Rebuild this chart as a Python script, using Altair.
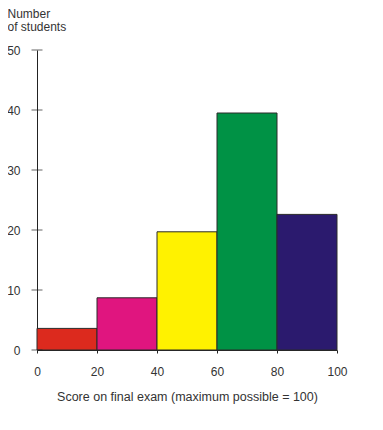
import altair as alt
import pandas as pd

bin_start = [0, 20, 40, 60, 80]
bin_end = [20, 40, 60, 80, 100]
counts = [3.6, 8.7, 19.7, 39.5, 22.6]
colors = ["#dc2a1e", "#e0157f", "#fff200", "#009245", "#2b1a6e"]
y_ticks = [0, 10, 20, 30, 40, 50]
x_ticks = [0, 20, 40, 60, 80, 100]

df = pd.DataFrame({"start": bin_start, "end": bin_end, "count": counts, "color": colors})
ticks_df = pd.DataFrame({"y": y_ticks, "x": [0] * len(y_ticks)})

FONT = "Liberation Sans"
TXT = "#333333"

x_scale = alt.Scale(domain=[0, 100], nice=False)
y_scale = alt.Scale(domain=[0, 50], nice=False)

bars = alt.Chart(df).mark_rect(stroke="#2a2a2a", strokeWidth=1).encode(
    x=alt.X("start:Q", scale=x_scale,
            axis=alt.Axis(values=x_ticks, title="Score on final exam (maximum possible = 100)",
                          grid=False, domainColor="#222", tickColor="#222", tickSize=3,
                          labelFlush=False, labelOverlap=False,
                          labelPadding=13, labelFont=FONT, labelFontSize=12, labelColor=TXT,
                          titleFont=FONT, titleFontSize=12.5, titleFontWeight="normal",
                          titleColor=TXT, titlePadding=13)),
    x2="end:Q",
    y=alt.Y("count:Q", scale=y_scale,
            axis=alt.Axis(values=y_ticks, title=["Number", "of students"], grid=False,
                          domainColor="#222", ticks=False, labelPadding=17,
                          labelFlush=False, labelOverlap=False,
                          labelFont=FONT, labelFontSize=12, labelColor=TXT,
                          titleFont=FONT, titleFontSize=12, titleFontWeight="normal",
                          titleColor=TXT, titleAngle=0, titleAlign="left",
                          titleBaseline="top", titleX=-30, titleY=-42, titleLineHeight=13)),
    y2=alt.datum(0),
    color=alt.Color("color:N", scale=None),
)

ticks = alt.Chart(ticks_df).mark_tick(orient="horizontal", size=11, thickness=1, color="#222").encode(
    x=alt.X("x:Q", scale=x_scale),
    y=alt.Y("y:Q", scale=y_scale),
)

chart = alt.layer(bars, ticks).properties(
    width=300, height=300,
    background="white",
    autosize=alt.AutoSizeParams(type="none"),
    padding={"left": 29, "top": 42, "right": 38, "bottom": 64},
).configure_view(stroke=None)

chart.save("out.html", embed_options={"renderer": "svg", "actions": False})
